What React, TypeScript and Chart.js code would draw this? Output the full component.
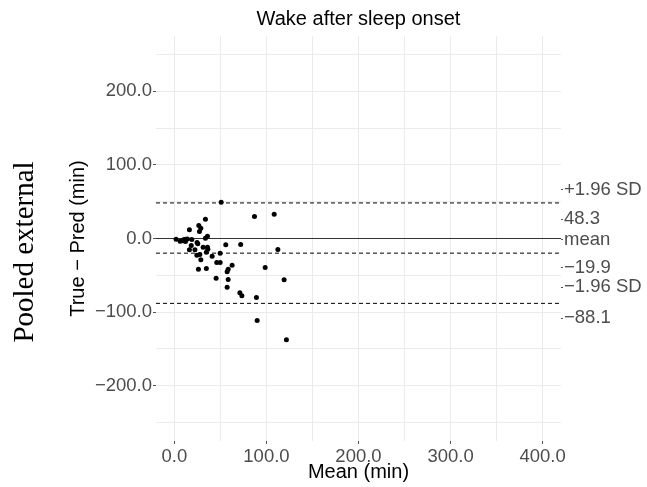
import React, { useEffect, useRef } from "react";
import { Chart, registerables } from "chart.js";

Chart.register(...registerables);

const titleText = "Wake after sleep onset";
const xTitle = "Mean (min)";
const yTitle = "True \u2212 Pred (min)";
const rowLabel = "Pooled external";

const meanVals = [
  50.8, 33.7, 87, 108.4, 26.5, 28.7, 16.3, 27.2, 35.9, 33.7,
  1.8, 6.2, 8.4, 10.5, 12.5, 14.1, 12, 18.9, 24.6, 25.4,
  55.8, 72, 112.4, 18.3, 22.3, 16.3, 31.2, 35.9, 36.3, 34.7,
  27.6, 24.4, 49.7, 41, 28.7, 46, 49.7, 62.7, 98.6, 58.4,
  57.3, 26.1, 34.7, 45.3, 58.4, 119.2, 57.3, 71.1, 73.3, 89.1,
  89.9, 121.7,
];
const diffVals = [
  49.3, 26.2, 29.9, 33, 17.7, 14, 11.8, 9.5, 3.1, 0.4,
  -0.9, -3.7, -3, -1.5, -1, -0.6, -4, -1.4, -5.4, -7.2,
  -8.6, -8.2, -15, -9.5, -15.4, -15.4, -11.8, -11.8, -14.5, -18.6,
  -21.7, -22.7, -20, -24, -29, -32.6, -32.6, -36.3, -39.4, -41.7,
  -45.2, -41.7, -40.8, -53.9, -55.7, -56.1, -66.1, -73.8, -77.9, -80.2,
  -111.4, -137.6,
];

const upperLoA = 48.3;
const meanDiff = -19.9;
const lowerLoA = -88.1;
const zeroLine = 0;

const xRange = [-20, 420];
const yRange = [-275, 275];
const xGridTicks = [0, 50, 100, 150, 200, 250, 300, 350, 400];
const yGridTicks = [-250, -200, -150, -100, -50, 0, 50, 100, 150, 200, 250];

const rightTickValues = [66.3, 26.3, -1.9, -39.9, -66.1, -108.1];
const rightTickLabels = ["+1.96 SD", "48.3", "mean", "\u221219.9", "\u22121.96 SD", "\u221288.1"];

const fmt = (v: number) => v.toFixed(1).replace("-", "\u2212");

const SANS = "'Liberation Sans', Arial, Helvetica, sans-serif";
const SERIF = "'Liberation Serif', 'DejaVu Serif', serif";

export default function App() {
  const ref = useRef<HTMLCanvasElement | null>(null);

  useEffect(() => {
    document.body.style.margin = "0";
    const canvas = ref.current;
    if (!canvas) return;

    const textPlugin = {
      id: "texts",
      afterDraw(chart: any) {
        const ctx = chart.ctx;
        const ca = chart.chartArea;
        const cx = (ca.left + ca.right) / 2;
        ctx.save();
        ctx.fillStyle = "#000";
        ctx.textAlign = "center";
        ctx.textBaseline = "middle";
        ctx.font = `20px ${SANS}`;
        ctx.fillText(titleText, cx, 19);
        ctx.font = `20px ${SANS}`;
        ctx.fillText(xTitle, cx, 472);
        ctx.save();
        ctx.translate(78, (ca.top + ca.bottom) / 2);
        ctx.rotate(-Math.PI / 2);
        ctx.fillText(yTitle, 0, 0);
        ctx.restore();
        ctx.save();
        ctx.translate(25, 252);
        ctx.rotate(-Math.PI / 2);
        ctx.font = `29px ${SERIF}`;
        ctx.fillText(rowLabel, 0, 0);
        ctx.restore();
        ctx.restore();
      },
    };

    const hline = (y: number, dash: number[], color: string) => ({
      type: "scatter" as const,
      data: [
        { x: xRange[0], y },
        { x: xRange[1], y },
      ],
      showLine: true,
      borderColor: color,
      borderWidth: 1,
      borderDash: dash,
      pointRadius: 0,
      order: 2,
    });

    const chart = new Chart(canvas, {
      type: "scatter",
      data: {
        datasets: [
          {
            data: meanVals.map((m, i) => ({ x: m, y: diffVals[i] })),
            backgroundColor: "#000",
            borderColor: "#000",
            pointRadius: 2.5,
            pointBorderWidth: 0,
            order: 0,
          } as any,
          hline(zeroLine, [], "#333"),
          hline(upperLoA, [4, 3], "#000"),
          hline(meanDiff, [4, 3], "#000"),
          hline(lowerLoA, [4, 3], "#000"),
        ],
      },
      plugins: [textPlugin],
      options: {
        responsive: false,
        animation: false,
        devicePixelRatio: 1,
        layout: { padding: { top: 36, left: 0, right: 0, bottom: 0 } },
        plugins: { legend: { display: false }, tooltip: { enabled: false }, title: { display: false } },
        scales: {
          x: {
            type: "linear",
            min: xRange[0],
            max: xRange[1],
            afterBuildTicks: (s: any) => {
              s.ticks = xGridTicks.map((v) => ({ value: v }));
            },
            afterFit: (s: any) => {
              s.height = 46;
            },
            border: { display: false },
            grid: {
              color: "#ebebeb",
              lineWidth: 1,
              drawTicks: true,
              tickLength: 3,
              tickColor: (c: any) => (c.tick && c.tick.value % 100 === 0 ? "#555" : "rgba(0,0,0,0)"),
            },
            ticks: {
              autoSkip: false,
              maxRotation: 0,
              padding: 2,
              color: "#4d4d4d",
              font: { size: 18.5, family: SANS },
              callback: (v: any) => (Number(v) % 100 === 0 ? fmt(Number(v)) : ""),
            },
          },
          y: {
            type: "linear",
            min: yRange[0],
            max: yRange[1],
            afterBuildTicks: (s: any) => {
              s.ticks = yGridTicks.map((v) => ({ value: v }));
            },
            afterFit: (s: any) => {
              s.width = 156;
            },
            border: { display: false },
            grid: {
              color: "#ebebeb",
              lineWidth: 1,
              drawTicks: true,
              tickLength: 3,
              tickColor: (c: any) => (c.tick && c.tick.value % 100 === 0 ? "#555" : "rgba(0,0,0,0)"),
            },
            ticks: {
              autoSkip: false,
              padding: 1,
              color: "#4d4d4d",
              font: { size: 18.5, family: SANS },
              callback: (v: any) => (Number(v) % 100 === 0 && Math.abs(Number(v)) < 250 ? fmt(Number(v)) : ""),
            },
          },
          y2: {
            type: "linear",
            position: "right",
            min: yRange[0],
            max: yRange[1],
            afterBuildTicks: (s: any) => {
              s.ticks = rightTickValues.map((v) => ({ value: v }));
            },
            afterFit: (s: any) => {
              s.width = 647 - 561;
            },
            border: { display: false },
            grid: {
              drawOnChartArea: false,
              drawTicks: true,
              tickLength: 2,
              tickColor: "#555",
            },
            ticks: {
              autoSkip: false,
              padding: 1,
              color: "#4d4d4d",
              font: { size: 18.5, family: SANS },
              callback: (_v: any, i: number) => rightTickLabels[i],
            },
          },
        },
      } as any,
    });

    return () => chart.destroy();
  }, []);

  return <canvas ref={ref} width={647} height={487} style={{ display: "block" }} />;
}
